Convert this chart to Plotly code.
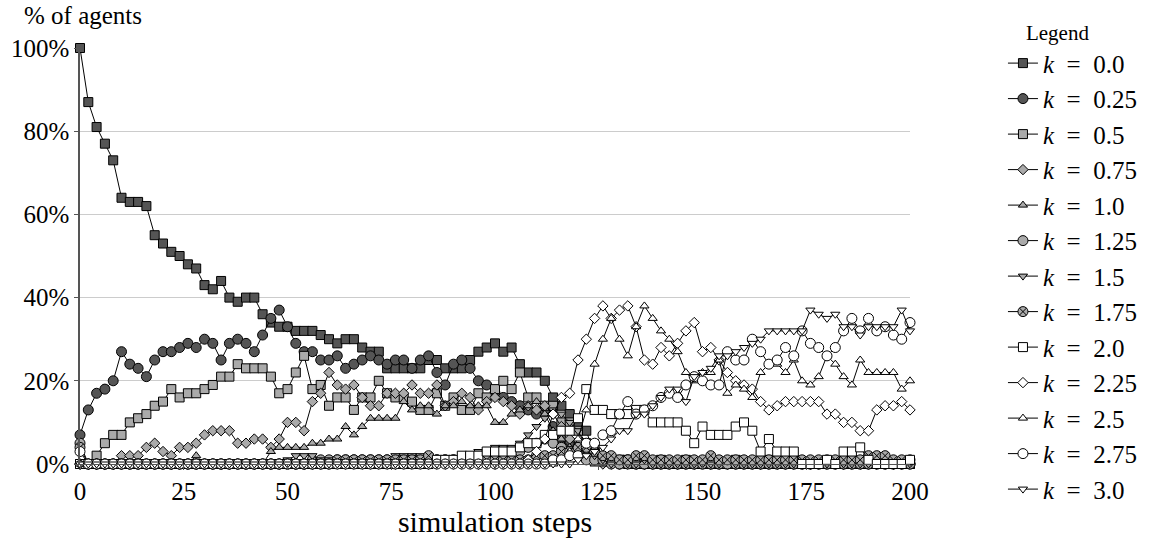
import plotly.graph_objects as go

steps = list(range(0, 201, 2))

labels = ["0.0", "0.25", "0.5", "0.75", "1.0", "1.25", "1.5", "1.75",
          "2.0", "2.25", "2.5", "2.75", "3.0"]

y_tick_vals = [0, 20, 40, 60, 80, 100]
y_tick_text = ["0%", "20%", "40%", "60%", "80%", "100%"]
x_tick_vals = [0, 25, 50, 75, 100, 125, 150, 175, 200]

k_0_00 = [100, 87, 81, 77, 73, 64, 63, 63, 62, 55, 53, 51, 50, 48, 47, 43, 42, 44, 40, 39, 40, 40, 36, 34, 33, 33,
          32, 32, 32, 31, 30, 29, 30, 30, 28, 27, 27, 23, 23, 23, 23, 23, 25, 25, 23, 23, 23, 25, 27, 28, 29,
          27, 28, 24, 22, 22, 20, 16, 14, 12, 10, 8, 2, 1, 1, 1, 1, 0, 1, 0, 1, 0, 0, 1, 0, 0,
          1, 0, 0, 1, 0, 0, 0, 1, 0, 0, 1, 0, 0, 0, 0, 0, 0, 1, 0, 0, 0, 0, 0, 0, 0]
k_0_25 = [7, 13, 17, 18, 20, 27, 24, 23, 21, 25, 27, 27, 28, 29, 28, 30, 29, 25, 29, 30, 29, 27, 31, 35, 37, 33,
          29, 27, 27, 25, 25, 26, 23, 24, 25, 26, 25, 24, 25, 25, 23, 25, 26, 22, 19, 24, 25, 23, 20, 19, 17,
          16, 15, 14, 13, 12, 13, 9, 6, 5, 4, 3, 2, 1, 1, 0, 1, 0, 0, 0, 0, 0, 0, 0, 0, 0,
          0, 0, 0, 0, 0, 0, 0, 0, 0, 0, 0, 0, 0, 0, 0, 0, 0, 0, 0, 0, 0, 0, 0, 0, 0]
k_0_50 = [0, 0, 2, 5, 7, 7, 10, 11, 12, 14, 15, 18, 16, 17, 17, 18, 19, 21, 21, 24, 23, 23, 23, 21, 17, 18,
          22, 26, 18, 19, 14, 16, 16, 13, 16, 16, 20, 17, 16, 16, 15, 13, 13, 17, 14, 16, 13, 13, 17, 16, 18,
          20, 18, 22, 16, 16, 14, 14, 10, 10, 8, 5, 3, 1, 1, 1, 0, 0, 0, 0, 0, 0, 0, 0, 0, 0,
          0, 0, 0, 0, 0, 0, 0, 0, 0, 0, 0, 0, 0, 0, 0, 0, 0, 0, 0, 0, 0, 0, 0, 0, 0]
k_0_75 = [0, 0, 0, 0, 0, 2, 2, 2, 4, 5, 3, 2, 4, 4, 5, 7, 8, 8, 8, 5, 5, 6, 6, 4, 6, 10,
          10, 8, 15, 17, 22, 19, 18, 19, 16, 14, 14, 17, 17, 17, 19, 17, 17, 19, 14, 15, 17, 16, 13, 15, 16,
          15, 14, 12, 14, 13, 14, 12, 9, 6, 4, 2, 1, 0, 0, 0, 0, 0, 0, 0, 0, 0, 0, 0, 0, 0,
          0, 0, 0, 0, 0, 0, 0, 0, 0, 0, 0, 0, 0, 0, 0, 0, 0, 0, 0, 0, 0, 0, 0, 0, 0]
k_1_00 = [0, 0, 0, 0, 0, 0, 0, 0, 0, 0, 0, 0, 0, 0, 2, 0, 0, 0, 0, 0, 0, 0, 0, 3, 4, 4,
          4, 4, 5, 5, 6, 6, 9, 7, 9, 11, 11, 11, 11, 15, 13, 14, 14, 12, 14, 14, 15, 14, 14, 14, 10,
          10, 12, 13, 14, 15, 12, 8, 6, 4, 2, 1, 0, 0, 0, 0, 0, 0, 0, 0, 0, 0, 0, 0, 0, 0,
          0, 0, 0, 0, 0, 0, 0, 0, 0, 0, 0, 0, 0, 0, 0, 0, 0, 0, 0, 0, 0, 0, 0, 0, 0]
k_1_25 = [5, 0, 0, 0, 0, 0, 0, 0, 0, 0, 0, 0, 0, 0, 0, 0, 0, 0, 0, 0, 0, 0, 0, 0, 0, 0,
          0, 0, 1, 1, 1, 1, 1, 1, 1, 1, 1, 1, 1, 1, 1, 1, 1, 1, 1, 1, 1, 1, 1, 2, 2,
          2, 3, 3, 4, 5, 6, 5, 4, 3, 2, 1, 1, 1, 0, 0, 0, 0, 0, 0, 0, 0, 0, 0, 0, 0,
          0, 0, 0, 0, 0, 0, 0, 0, 0, 0, 0, 0, 0, 0, 0, 0, 0, 0, 0, 0, 0, 0, 0, 0, 0]
k_1_50 = [0, 0, 0, 0, 0, 0, 0, 0, 0, 0, 0, 0, 0, 0, 0, 0, 0, 0, 0, 0, 0, 0, 0, 0, 0, 1,
          2, 2, 2, 1, 1, 1, 1, 1, 1, 1, 1, 1, 2, 2, 2, 2, 2, 1, 1, 1, 1, 2, 3, 3, 4,
          4, 4, 5, 7, 9, 11, 13, 12, 10, 8, 4, 2, 1, 0, 1, 0, 0, 1, 0, 0, 0, 0, 0, 0, 0,
          0, 0, 1, 0, 0, 0, 0, 0, 0, 0, 0, 0, 0, 0, 0, 0, 0, 0, 0, 0, 0, 0, 0, 0, 0]
k_1_75 = [4, 0, 0, 0, 0, 0, 0, 0, 0, 0, 0, 0, 0, 0, 0, 0, 0, 0, 0, 0, 0, 0, 0, 0, 0, 0,
          0, 0, 0, 0, 0, 1, 1, 1, 1, 1, 1, 1, 1, 1, 1, 1, 2, 1, 1, 1, 1, 1, 1, 1, 1,
          1, 1, 1, 1, 2, 2, 2, 3, 3, 4, 4, 3, 2, 2, 1, 1, 2, 2, 1, 1, 1, 1, 1, 1, 1,
          2, 1, 1, 1, 1, 1, 1, 1, 1, 1, 1, 1, 1, 1, 1, 1, 1, 1, 1, 2, 2, 2, 1, 1, 1]
k_2_00 = [0, 0, 0, 0, 0, 0, 0, 0, 0, 0, 0, 0, 0, 0, 0, 0, 0, 0, 0, 0, 0, 0, 0, 0, 0, 0,
          0, 0, 0, 0, 0, 0, 0, 0, 0, 0, 0, 0, 0, 0, 0, 0, 0, 1, 1, 1, 2, 2, 2, 3, 3,
          3, 3, 4, 5, 5, 7, 7, 8, 8, 11, 18, 13, 13, 12, 12, 12, 13, 13, 10, 10, 10, 10, 8, 5, 9,
          7, 7, 7, 9, 10, 8, 3, 6, 3, 3, 3, 0, 0, 0, 1, 0, 3, 3, 4, 1, 0, 0, 0, 0, 1]
k_2_25 = [0, 0, 0, 0, 0, 0, 0, 0, 0, 0, 0, 0, 0, 0, 0, 0, 0, 0, 0, 0, 0, 0, 0, 0, 0, 0,
          0, 0, 0, 0, 0, 0, 0, 0, 0, 0, 0, 0, 0, 0, 0, 0, 0, 0, 0, 0, 0, 0, 0, 0, 0,
          0, 0, 0, 1, 3, 6, 12, 16, 17, 25, 30, 35, 38, 35, 37, 38, 33, 25, 24, 28, 26, 29, 32, 34, 27,
          28, 25, 22, 20, 19, 18, 15, 13, 14, 15, 15, 15, 15, 15, 12, 12, 10, 10, 8, 8, 13, 14, 14, 15, 13]
k_2_50 = [0, 0, 0, 0, 0, 0, 0, 0, 0, 0, 0, 0, 0, 0, 0, 0, 0, 0, 0, 0, 0, 0, 0, 0, 0, 0,
          0, 0, 0, 0, 0, 0, 0, 0, 0, 0, 0, 0, 0, 0, 0, 0, 0, 0, 0, 0, 0, 0, 0, 0, 0,
          0, 0, 0, 0, 0, 0, 0, 1, 3, 6, 13, 24, 30, 35, 30, 26, 33, 38, 35, 32, 30, 27, 22, 20, 22,
          22, 25, 17, 19, 18, 16, 22, 24, 24, 22, 25, 20, 19, 21, 26, 24, 21, 19, 25, 22, 22, 22, 22, 18, 20]
k_2_75 = [3, 0, 0, 0, 0, 0, 0, 0, 0, 0, 0, 0, 0, 0, 0, 0, 0, 0, 0, 0, 0, 0, 0, 0, 0, 0,
          0, 0, 0, 0, 0, 0, 0, 0, 0, 0, 0, 0, 0, 0, 0, 0, 0, 0, 0, 0, 0, 0, 0, 0, 0,
          0, 0, 0, 0, 0, 0, 1, 1, 2, 2, 5, 5, 7, 8, 12, 15, 12, 13, 14, 16, 17, 16, 19, 21, 20,
          19, 19, 27, 25, 25, 30, 27, 24, 25, 28, 26, 32, 29, 28, 26, 28, 32, 35, 32, 35, 32, 33, 31, 30, 34]
k_3_00 = [0, 0, 0, 0, 0, 0, 0, 0, 0, 0, 0, 0, 0, 0, 0, 0, 0, 0, 0, 0, 0, 0, 0, 0, 0, 0,
          0, 0, 0, 0, 0, 0, 0, 0, 0, 0, 0, 0, 0, 0, 0, 0, 0, 0, 0, 0, 0, 0, 0, 0, 0,
          0, 0, 0, 0, 0, 0, 0, 0, 0, 1, 2, 3, 4, 6, 8, 8, 12, 12, 14, 16, 18, 18, 15, 21, 22,
          23, 26, 26, 27, 28, 29, 30, 32, 32, 32, 32, 32, 37, 36, 35, 36, 33, 33, 31, 33, 33, 33, 33, 37, 32]

series = [k_0_00, k_0_25, k_0_50, k_0_75, k_1_00, k_1_25, k_1_50, k_1_75,
          k_2_00, k_2_25, k_2_50, k_2_75, k_3_00]

symbols = ["square", "circle", "square", "diamond", "triangle-up", "circle",
           "triangle-down", "circle-x", "square", "diamond", "triangle-up",
           "circle", "triangle-down"]
sizes = [9, 10, 9, 8, 8, 10, 8, 10, 9, 8, 8, 10, 8]
fills = ["#555555", "#555555", "#aaaaaa", "#aaaaaa", "#aaaaaa", "#aaaaaa",
         "#aaaaaa", "#aaaaaa", "#ffffff", "#ffffff", "#ffffff", "#ffffff", "#ffffff"]

FONT = "Liberation Serif"

fig = go.Figure()
for i, (lab, vals) in enumerate(zip(labels, series)):
    fig.add_trace(go.Scatter(
        x=steps, y=vals, mode="lines+markers",
        name="<i>k</i>&nbsp;&nbsp;=&nbsp;&nbsp;" + lab,
        line=dict(color="black", width=1),
        marker=dict(symbol=symbols[i], size=sizes[i], color=fills[i],
                    line=dict(color="black", width=1)),
        cliponaxis=False,
    ))

fig.update_layout(
    width=1154, height=540,
    margin=dict(l=80, r=242, t=48, b=76),
    paper_bgcolor="white", plot_bgcolor="white",
    font=dict(family=FONT, size=25, color="black"),
    showlegend=True,
    legend=dict(
        title=dict(text="&nbsp;&nbsp;&nbsp;&nbsp;Legend", font=dict(size=21, family=FONT)),
        font=dict(size=25, family=FONT),
        x=1.112, xanchor="left", y=1.084, yanchor="top",
        maxheight=540,
        bgcolor="rgba(0,0,0,0)",
    ),
    xaxis=dict(
        range=[0, 200], tickvals=x_tick_vals,
        showgrid=False, zeroline=False,
        showline=True, linecolor="#555555", linewidth=1,
        ticks="outside", ticklen=5, tickcolor="#555555",
        title=dict(text="simulation steps", standoff=0),
    ),
    yaxis=dict(
        range=[0, 100], tickvals=y_tick_vals, ticktext=y_tick_text,
        showgrid=True, gridcolor="#cccccc", gridwidth=1, zeroline=False,
        showline=True, linecolor="#555555", linewidth=1.5,
        ticks="outside", ticklen=4, tickcolor="#555555",
    ),
    annotations=[dict(text="% of agents", xref="paper", yref="paper",
                      x=-0.07, y=1.077, xanchor="left", yanchor="middle",
                      showarrow=False, font=dict(size=25, family=FONT))],
)

fig.write_html("out.html")
